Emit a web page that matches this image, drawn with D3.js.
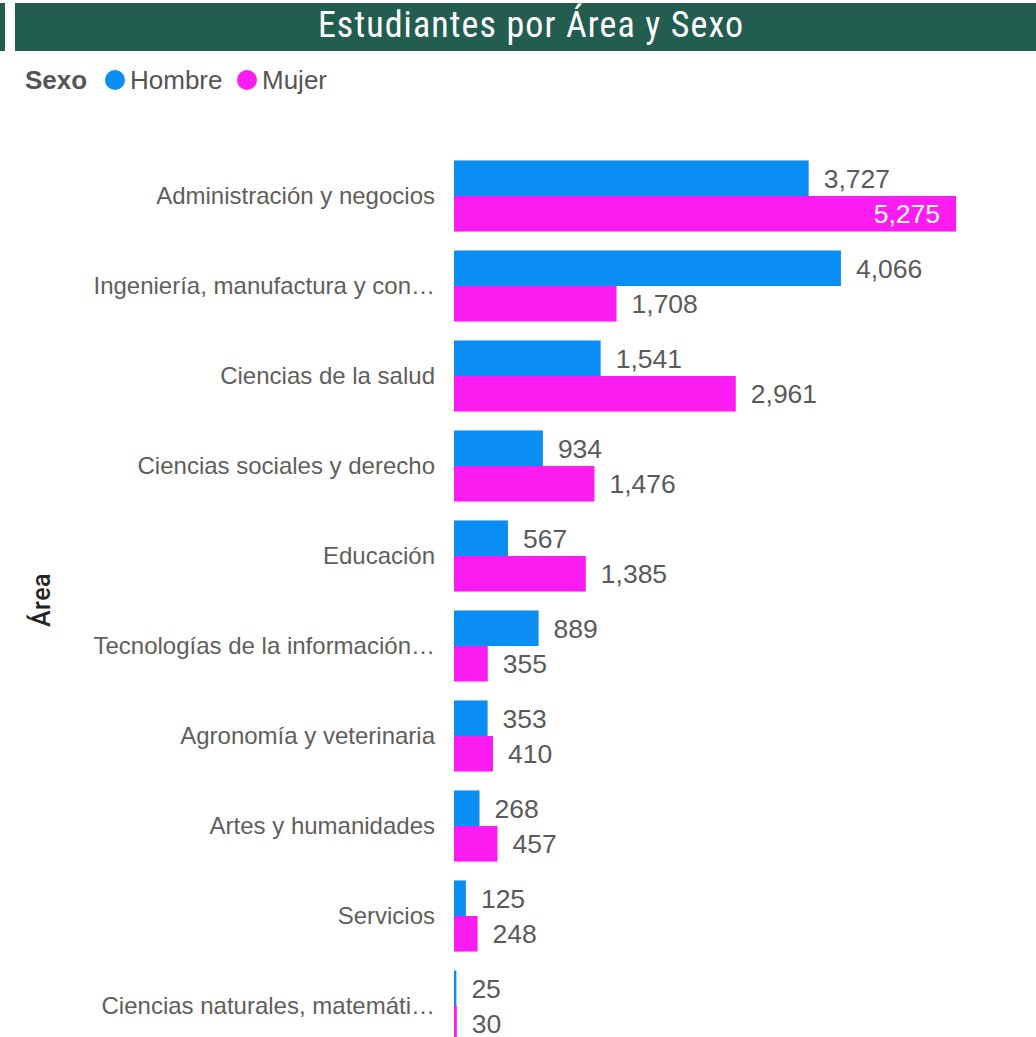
<!DOCTYPE html>
<html>
<head>
<meta charset="utf-8">
<script src="https://cdn.jsdelivr.net/npm/d3@7"></script>
<style>
  html, body { margin: 0; padding: 0; background: #fff; overflow: hidden; }
  svg { display: block; }
</style>
</head>
<body>
<svg id="chart" width="1036" height="1037"></svg>
<script>
const categories = [
  "Administración y negocios",
  "Ingeniería, manufactura y con…",
  "Ciencias de la salud",
  "Ciencias sociales y derecho",
  "Educación",
  "Tecnologías de la información…",
  "Agronomía y veterinaria",
  "Artes y humanidades",
  "Servicios",
  "Ciencias naturales, matemáti…"
];
const seriesNames = ["Hombre", "Mujer"];
const hombre = [3727, 4066, 1541, 934, 567, 889, 353, 268, 125, 25];
const mujer  = [5275, 1708, 2961, 1476, 1385, 355, 410, 457, 248, 30];
const colors = ["#0A8EF3", "#FC1CF2"];

const svg = d3.select("#chart");
const mainFont = "'Liberation Sans', Arial, sans-serif";
const titleFont = "'Liberation Sans Narrow', 'Roboto Condensed', Roboto, sans-serif";

// Title bar
svg.append("rect").attr("x", 0).attr("y", 3).attr("width", 5).attr("height", 48).attr("fill", "#235D4F");
svg.append("rect").attr("x", 15).attr("y", 3).attr("width", 1021).attr("height", 48).attr("fill", "#235D4F");
svg.append("text").attr("x", 531).attr("y", 37).attr("text-anchor", "middle")
  .attr("fill", "#fff").attr("font-family", titleFont)
  .attr("font-size", 36).attr("letter-spacing", 1.1).text("Estudiantes por Área y Sexo");

// Legend
const lg = svg.append("g").attr("font-family", mainFont).attr("font-size", 26);
lg.append("text").attr("x", 25).attr("y", 89).attr("font-weight", "bold").attr("fill", "#555").text("Sexo");
const legendPos = [[115, 130], [247, 262]];
seriesNames.forEach((n, i) => {
  lg.append("circle").attr("cx", legendPos[i][0]).attr("cy", 80).attr("r", 10).attr("fill", colors[i]);
  lg.append("text").attr("x", legendPos[i][1]).attr("y", 89).attr("fill", "#555").text(n);
});

// Scales
const x = d3.scaleLinear().domain([0, 5275]).range([454, 956]);
const y = d3.scaleBand().domain(categories).range([151, 1051]).paddingInner(0.21).paddingOuter(0.105);
const ySub = d3.scaleBand().domain(seriesNames).range([0, y.bandwidth()]);

// Category labels
const yAxis = d3.axisLeft(y).tickSize(0).tickPadding(0);
const ag = svg.append("g").attr("transform", "translate(435,0)").call(yAxis);
ag.select(".domain").remove();
ag.selectAll("text").attr("font-family", mainFont)
  .attr("font-size", 24).attr("fill", "#605E5C").attr("dy", "0.35em");

// Axis title
svg.append("text").attr("transform", "translate(50,600) rotate(-90)").attr("text-anchor", "middle")
  .attr("font-family", "Roboto, sans-serif").attr("font-weight", 500).attr("font-size", 25)
  .attr("letter-spacing", 0.5)
  .attr("fill", "#252423").text("Área");

// Bars
const data = [];
categories.forEach((c, i) => {
  data.push({ cat: c, s: "Hombre", v: hombre[i], ci: 0 });
  data.push({ cat: c, s: "Mujer", v: mujer[i], ci: 1 });
});

const bars = svg.append("g");
bars.selectAll("rect").data(data).join("rect")
  .attr("x", x(0))
  .attr("y", d => y(d.cat) + ySub(d.s))
  .attr("width", d => x(d.v) - x(0))
  .attr("height", ySub.bandwidth())
  .attr("fill", d => colors[d.ci]);

const fmt = d3.format(",");
bars.selectAll("text").data(data).join("text")
  .attr("font-family", mainFont)
  .attr("font-size", 26.5)
  .attr("y", d => y(d.cat) + ySub(d.s) + ySub.bandwidth() / 2)
  .attr("dy", "0.36em")
  .each(function (d) {
    const inside = x(d.v) > 900;
    d3.select(this)
      .attr("x", inside ? x(d.v) - 16 : x(d.v) + 15)
      .attr("text-anchor", inside ? "end" : "start")
      .attr("fill", inside ? "#fff" : "#5A5A5A");
  })
  .text(d => fmt(d.v));
</script>
</body>
</html>
